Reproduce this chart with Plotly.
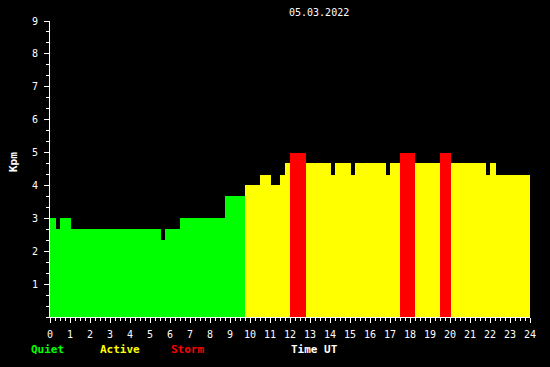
import plotly.graph_objects as go

# Segment start / end times (hours UT) and Kpm values
seg_start = [0.0, 0.3, 0.5, 1.05, 5.55, 5.75, 6.5, 8.75, 9.75, 10.5, 11.05, 11.5, 11.75,
             12.0, 12.8, 14.05, 14.25, 15.05, 15.25, 16.8, 17.0, 17.5, 18.25, 19.5,
             20.05, 21.8, 22.0, 22.3]
seg_end = [0.3, 0.5, 1.05, 5.55, 5.75, 6.5, 8.75, 9.75, 10.5, 11.05, 11.5, 11.75, 12.0,
           12.8, 14.05, 14.25, 15.05, 15.25, 16.8, 17.0, 17.5, 18.25, 19.5, 20.05,
           21.8, 22.0, 22.3, 24.0]
kpm = [3.0, 2.67, 3.0, 2.67, 2.33, 2.67, 3.0, 3.67, 4.0, 4.33, 4.0, 4.33, 4.67,
       5.0, 4.67, 4.33, 4.67, 4.33, 4.67, 4.33, 4.67, 5.0, 4.67, 5.0,
       4.67, 4.33, 4.67, 4.33]

x_ticks = list(range(0, 25))
y_ticks = list(range(1, 10))
date_label = "05.03.2022"


def level_color(v):
    if v >= 5:
        return "#ff0000"
    if v >= 4:
        return "#ffff00"
    return "#00ff00"


widths = [e - s for s, e in zip(seg_start, seg_end)]
colors = [level_color(v) for v in kpm]

fig = go.Figure(go.Bar(
    x=seg_start, y=kpm, width=widths, offset=0,
    marker=dict(color=colors, line=dict(width=0)),
    hoverinfo="skip", showlegend=False,
))

FONT = "DejaVu Sans Mono"

fig.update_layout(
    width=550, height=367,
    margin=dict(l=50, r=20, t=21, b=50),
    paper_bgcolor="black", plot_bgcolor="black",
    font=dict(family=FONT, size=10, color="white"),
    bargap=0,
    xaxis=dict(
        range=[0, 24], tickmode="array", tickvals=x_ticks,
        ticktext=[str(t) for t in x_ticks],
        showline=True, linecolor="white", linewidth=1,
        ticks="outside", ticklen=5, tickcolor="white", tickwidth=1,
        ticklabelstandoff=3,
        showgrid=False, zeroline=False,
        tickfont=dict(family=FONT, size=10, color="white"),
        minor=dict(tickmode="linear", tick0=0, dtick=0.25, ticklen=3,
                   tickcolor="white", ticks="outside", showgrid=False),
    ),
    yaxis=dict(
        range=[0, 9], tickmode="array", tickvals=y_ticks,
        ticktext=[str(t) for t in y_ticks],
        showline=True, linecolor="white", linewidth=1,
        ticks="outside", ticklen=5, tickcolor="white", tickwidth=1,
        ticklabelstandoff=4,
        showgrid=False, zeroline=False,
        tickfont=dict(family=FONT, size=10, color="white"),
        minor=dict(tickmode="linear", tick0=0, dtick=1/3, ticklen=3,
                   tickcolor="white", ticks="outside", showgrid=False),
    ),
)

annots = [
    dict(text=date_label, x=319, y=12.5, color="white", size=10),
    dict(text="<b>Quiet</b>", x=47, y=349, color="#00ff00", size=11),
    dict(text="<b>Active</b>", x=120, y=349, color="#ffff00", size=11),
    dict(text="<b>Storm</b>", x=187, y=349, color="#ff0000", size=11),
    dict(text="<b>Time UT</b>", x=314, y=349, color="white", size=11),
]
for a in annots:
    fig.add_annotation(
        text=a["text"], xref="paper", yref="paper",
        x=(a["x"] - 50) / 480, y=(367 - 50 - a["y"]) / 296,
        xanchor="center", yanchor="middle", showarrow=False,
        font=dict(family=FONT, size=a["size"], color=a["color"]),
    )

fig.add_annotation(
    text="<b>Kpm</b>", xref="paper", yref="paper",
    x=(13 - 50) / 480, y=(367 - 50 - 162) / 296,
    xanchor="center", yanchor="middle", showarrow=False, textangle=-90,
    font=dict(family=FONT, size=11, color="white"),
)

fig.write_html(
    "out.html",
    config={"displayModeBar": False},
    post_script="document.body.style.margin='0';document.body.style.background='black';",
)
